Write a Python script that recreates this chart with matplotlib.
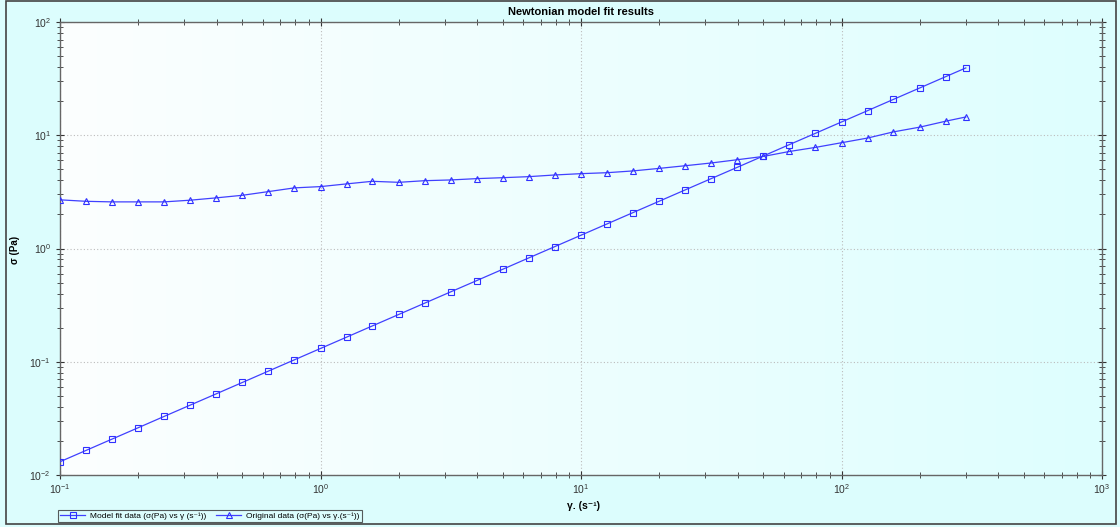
import numpy as np
import matplotlib
matplotlib.use('Agg')
import matplotlib.pyplot as plt
from matplotlib.patches import Rectangle
from matplotlib.colors import LinearSegmentedColormap
from matplotlib.ticker import LogLocator, NullFormatter

plt.rcParams['font.family'] = ['Liberation Sans', 'DejaVu Sans']
plt.rcParams['axes.unicode_minus'] = False

# shear rate (s^-1)
shear_rate = [0.1, 0.126, 0.158, 0.2, 0.251, 0.316, 0.398, 0.501, 0.631, 0.794,
              1.0, 1.26, 1.58, 2.0, 2.51, 3.16, 3.98, 5.01, 6.31, 7.94,
              10.0, 12.6, 15.8, 20.0, 25.1, 31.6, 39.8, 50.1, 63.1, 79.4,
              100.0, 126.0, 158.0, 200.0, 251.0, 300.0]

# model fit stress (Pa)
model_stress = [0.0131, 0.0165, 0.0207, 0.0262, 0.0329, 0.0414, 0.0521, 0.0656, 0.0827, 0.104,
                0.131, 0.165, 0.207, 0.262, 0.329, 0.414, 0.521, 0.656, 0.827, 1.04,
                1.31, 1.65, 2.07, 2.62, 3.29, 4.14, 5.21, 6.56, 8.27, 10.4,
                13.1, 16.5, 20.7, 26.2, 32.9, 39.3]

# original measured stress (Pa)
orig_stress = [2.69, 2.61, 2.58, 2.58, 2.58, 2.67, 2.80, 2.95, 3.18, 3.43,
               3.52, 3.72, 3.92, 3.84, 3.97, 4.03, 4.14, 4.22, 4.31, 4.46,
               4.58, 4.67, 4.84, 5.10, 5.38, 5.69, 6.08, 6.50, 7.19, 7.81,
               8.59, 9.45, 10.7, 11.8, 13.3, 14.5]

bg = '#dcfdfd'
line_col = '#4040ff'

fig = plt.figure(figsize=(11.2, 5.27), dpi=100, facecolor=bg)
ax = fig.add_axes([60/1120, 52/527, 1042/1120, 453/527])
ax.set_facecolor('none')

# horizontal gradient inside the plot area
grad = np.linspace(0, 1, 256).reshape(1, -1)
cmap = LinearSegmentedColormap.from_list('g', ['#fcffff', '#defefe'])
ax.imshow(grad, cmap=cmap, aspect='auto', extent=[0, 1, 0, 1],
          transform=ax.transAxes, zorder=0)

ax.plot(shear_rate, model_stress, color=line_col, lw=0.9, marker='s', ms=4.5,
        mfc='none', mec='#3030ff', mew=0.8, zorder=3,
        label='Model fit data (σ(Pa) vs γ (s⁻¹))')
ax.plot(shear_rate, orig_stress, color=line_col, lw=0.9, marker='^', ms=4.5,
        mfc='none', mec='#3030ff', mew=0.8, zorder=3,
        label='Original data (σ(Pa) vs γ.(s⁻¹))')

ax.set_xscale('log')
ax.set_yscale('log')
ax.set_xlim(0.1, 1000)
ax.set_ylim(0.01, 100)

for a in (ax.xaxis, ax.yaxis):
    a.set_major_locator(LogLocator(base=10, numticks=10))
    a.set_minor_locator(LogLocator(base=10, subs=np.arange(2, 10), numticks=10))
    a.set_minor_formatter(NullFormatter())

ax.grid(True, which='major', color='#bcbcbc', linestyle=(0, (1, 2)), lw=0.8)
ax.tick_params(which='both', direction='inout', top=True, right=True,
               labelsize=7.5, labelcolor='#333333', color='#333333')
ax.tick_params(which='major', length=6)
ax.tick_params(which='minor', length=4)
ax.tick_params(axis='x', pad=2)
for s in ax.spines.values():
    s.set_color('#666666')
    s.set_linewidth(1.0)

ax.set_title('Newtonian model fit results', fontsize=8, fontweight='bold', pad=5)
ax.set_xlabel('γ. (s⁻¹)', fontsize=7.5, fontweight='bold')
ax.xaxis.set_label_coords(0.502, -0.058)
ax.set_ylabel('σ (Pa)', fontsize=7, fontweight='bold')
ax.yaxis.set_label_coords(-0.038, 0.497)

leg = fig.legend(loc='lower left', bbox_to_anchor=(58/1120, 5/527), ncol=2,
                 fontsize=6, frameon=True, fancybox=False, edgecolor='#333333',
                 handlelength=3, borderpad=0.25, columnspacing=1.2,
                 handletextpad=0.6, borderaxespad=0)
leg.get_frame().set_linewidth(0.8)
leg.get_frame().set_facecolor(bg)

fig.patches.append(Rectangle((6/1120, 3/527), 1110/1120, 523/527,
                             transform=fig.transFigure, fill=False,
                             edgecolor='#444444', lw=1.2))

fig.savefig('out.png', dpi=100, facecolor=bg)
